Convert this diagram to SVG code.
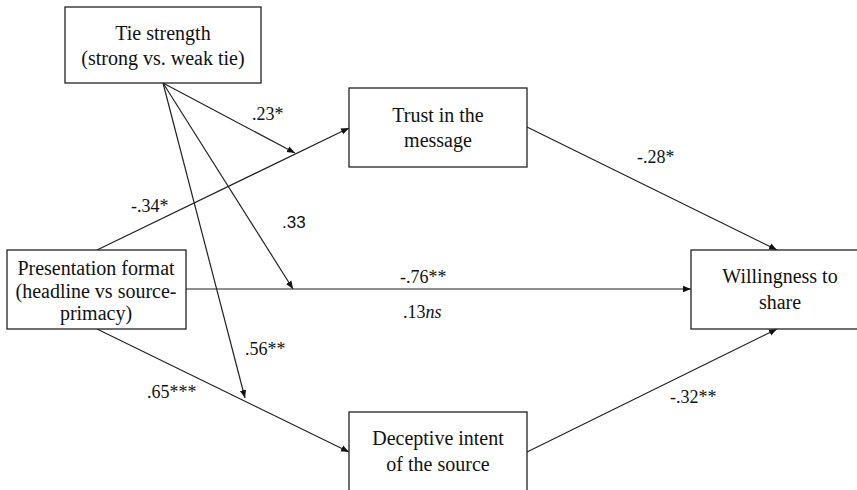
<svg xmlns="http://www.w3.org/2000/svg" width="857" height="490" viewBox="0 0 857 490">
<style>
.box{fill:#fff;stroke:#222;stroke-width:1.3}
.t{font-size:20px;fill:#111;text-anchor:middle}
.l{font-size:18px;fill:#111}
.ls{font-size:17px;fill:#111}
.c{fill:none;stroke:#222;stroke-width:1.2;marker-end:url(#ah)}
</style>
<defs>
<marker id="ah" viewBox="0 0 10 10" refX="10" refY="5" markerWidth="8" markerHeight="8" markerUnits="userSpaceOnUse" orient="auto">
<path d="M0,1 L10,5 L0,9 z" fill="#111"/>
</marker>
</defs>
<rect width="857" height="490" fill="#fff"/>
<g id="connectors">
<line class="c" x1="97" y1="250" x2="349" y2="128"/>
<line class="c" x1="163" y1="83" x2="295" y2="153"/>
<line class="c" x1="163" y1="83" x2="293" y2="289"/>
<line class="c" x1="163" y1="83" x2="245" y2="398"/>
<line class="c" x1="186" y1="289" x2="691" y2="289"/>
<line class="c" x1="97" y1="329" x2="349" y2="452"/>
<line class="c" x1="527" y1="127" x2="777" y2="250"/>
<line class="c" x1="527" y1="452" x2="777" y2="329"/>
</g>
<g font-family="Liberation Serif, DejaVu Serif, serif">
<g id="tie">
<rect class="box" x="65" y="7" width="196" height="76"/>
<text class="t" x="163" y="40">Tie strength</text>
<text class="t" x="163" y="65">(strong vs. weak tie)</text>
</g>
<g id="trust">
<rect class="box" x="349" y="88" width="178" height="79"/>
<text class="t" x="438" y="122">Trust in the</text>
<text class="t" x="438" y="147">message</text>
</g>
<g id="presentation">
<rect class="box" x="7" y="250" width="179" height="79"/>
<text class="t" x="96" y="275">Presentation format</text>
<text class="t" x="96" y="298">(headline vs source-</text>
<text class="t" x="96" y="320">primacy)</text>
</g>
<g id="willingness">
<rect class="box" x="691" y="250" width="170" height="79"/>
<text class="t" x="780" y="283">Willingness to</text>
<text class="t" x="780" y="309">share</text>
</g>
<g id="deceptive">
<rect class="box" x="349" y="412" width="178" height="90"/>
<text class="t" x="438" y="445">Deceptive intent</text>
<text class="t" x="438" y="471">of the source</text>
</g>
<g id="labels">
<text class="l" x="252" y="120">.23*</text>
<text class="l" x="131" y="212">-.34*</text>
<text class="ls" x="282" y="228" font-family="Liberation Sans, sans-serif">.33</text>
<text class="l" x="637" y="163">-.28*</text>
<text class="l" x="400" y="283">-.76**</text>
<text class="l" x="403" y="318">.13<tspan font-style="italic">ns</tspan></text>
<text class="l" x="245" y="355">.56**</text>
<text class="l" x="147" y="398">.65***</text>
<text class="l" x="670" y="403">-.32**</text>
</g>
</g>
</svg>
